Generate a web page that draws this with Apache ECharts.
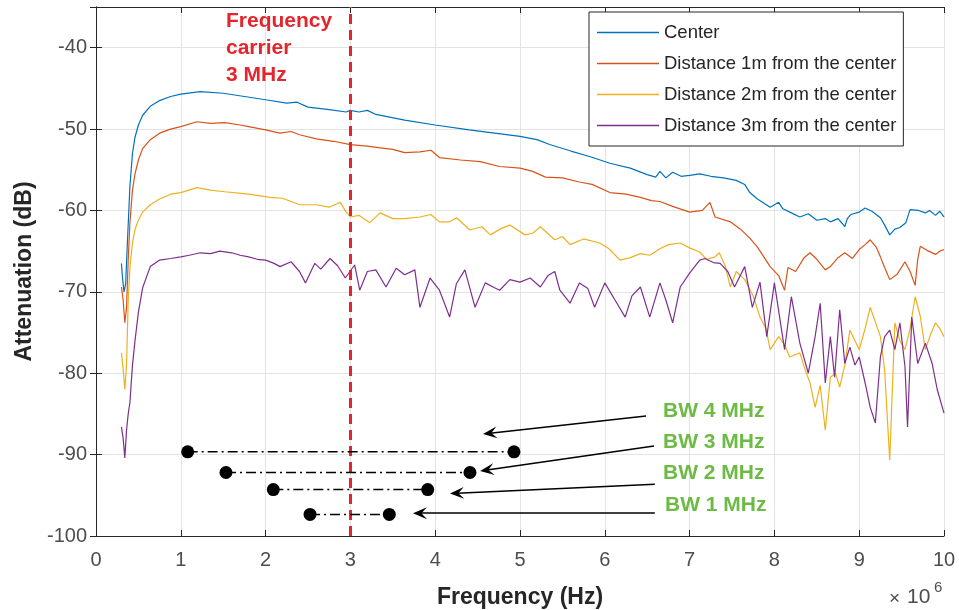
<!DOCTYPE html>
<html>
<head>
<meta charset="utf-8">
<script src="https://cdn.jsdelivr.net/npm/echarts/dist/echarts.min.js"></script>
<style>
html,body{margin:0;padding:0;background:#fff;}
#chart{width:959px;height:610px;}
</style>
</head>
<body>
<div id="chart"></div>
<script>
// ---------- DATA (frequency in MHz, attenuation in dB) ----------
var centerFreq = [0.30,0.31,0.33,0.35,0.37,0.40,0.43,0.46,0.50,0.55,0.64,0.75,0.88,1.00,1.23,1.50,1.75,2.00,2.25,2.37,2.50,2.75,2.95,3.00,3.10,3.20,3.30,3.64,4.00,4.40,4.70,5.00,5.20,5.35,5.60,5.83,6.06,6.30,6.50,6.60,6.65,6.72,6.80,6.90,7.00,7.12,7.25,7.40,7.55,7.65,7.71,7.80,7.95,8.05,8.10,8.20,8.30,8.40,8.50,8.60,8.66,8.75,8.80,8.83,8.86,8.90,9.00,9.07,9.15,9.25,9.30,9.36,9.42,9.48,9.55,9.60,9.70,9.78,9.83,9.90,9.95,10.00];
var centerAtt  = [-66.5,-68.0,-70.0,-69.0,-64.0,-57.0,-53.0,-51.0,-49.5,-48.3,-47.2,-46.5,-46.0,-45.7,-45.4,-45.6,-46.0,-46.4,-46.8,-46.7,-47.3,-47.6,-47.9,-47.7,-47.9,-47.7,-48.2,-48.9,-49.5,-50.1,-50.5,-50.9,-51.3,-51.9,-52.7,-53.4,-54.2,-54.8,-55.6,-55.9,-55.2,-56.0,-55.3,-55.8,-55.7,-55.5,-55.8,-56.0,-56.3,-56.8,-57.8,-58.6,-59.6,-59.0,-59.8,-60.3,-60.8,-60.4,-61.2,-61.0,-61.4,-61.0,-61.6,-62.0,-61.0,-60.5,-60.2,-59.7,-60.1,-60.9,-61.8,-63.0,-62.3,-62.1,-61.5,-59.9,-60.0,-60.3,-60.0,-60.6,-60.1,-60.8];

var d1Freq = [0.30,0.32,0.34,0.36,0.38,0.40,0.43,0.46,0.50,0.55,0.64,0.75,0.88,1.00,1.19,1.35,1.52,1.70,1.80,2.00,2.17,2.30,2.40,2.60,2.80,3.00,3.20,3.35,3.50,3.64,3.82,3.95,4.05,4.30,4.53,4.76,5.00,5.15,5.30,5.50,5.70,5.85,6.06,6.25,6.42,6.55,6.65,6.80,7.00,7.15,7.24,7.30,7.48,7.60,7.71,7.80,7.95,8.05,8.12,8.16,8.25,8.35,8.42,8.50,8.60,8.66,8.75,8.83,8.92,9.00,9.07,9.13,9.20,9.25,9.30,9.36,9.45,9.54,9.60,9.66,9.69,9.72,9.80,9.90,9.95,10.00];
var d1Att  = [-69.4,-71.0,-73.8,-72.0,-66.0,-61.5,-57.5,-55.5,-53.8,-52.4,-51.3,-50.5,-50.0,-49.7,-49.1,-49.3,-49.2,-49.5,-49.7,-50.1,-50.5,-50.3,-50.7,-51.2,-51.5,-51.9,-52.1,-52.3,-52.5,-52.9,-52.8,-52.6,-53.5,-53.8,-54.0,-54.6,-54.8,-55.2,-55.9,-56.0,-56.5,-56.8,-57.8,-58.0,-58.4,-58.8,-58.9,-59.5,-60.2,-60.0,-59.0,-60.8,-61.4,-62.3,-63.4,-64.5,-66.9,-68.0,-69.8,-67.0,-67.5,-65.8,-65.2,-66.0,-67.3,-66.9,-65.8,-65.2,-65.9,-64.8,-64.2,-63.6,-64.5,-65.7,-67.0,-68.5,-67.8,-66.3,-67.5,-69.2,-66.0,-64.4,-64.9,-65.4,-65.0,-64.8];

var d2Freq = [0.30,0.32,0.34,0.36,0.38,0.40,0.43,0.46,0.50,0.55,0.64,0.75,0.88,1.00,1.19,1.35,1.52,1.80,2.05,2.20,2.40,2.60,2.75,2.88,2.95,3.00,3.10,3.23,3.35,3.50,3.64,3.82,3.95,4.05,4.17,4.25,4.41,4.55,4.65,4.78,4.88,5.06,5.15,5.24,5.41,5.50,5.59,5.75,5.94,6.05,6.18,6.30,6.42,6.53,6.65,6.75,6.89,7.00,7.12,7.20,7.30,7.35,7.42,7.48,7.55,7.65,7.75,7.83,7.90,7.95,8.05,8.12,8.18,8.30,8.36,8.42,8.48,8.54,8.60,8.66,8.72,8.77,8.83,8.89,8.95,9.00,9.07,9.13,9.20,9.25,9.30,9.36,9.42,9.48,9.54,9.60,9.66,9.72,9.78,9.85,9.90,9.95,10.00];
var d2Att  = [-77.5,-79.5,-82.0,-79.0,-71.0,-67.0,-64.0,-62.3,-61.2,-60.2,-59.3,-58.6,-58.0,-57.8,-57.2,-57.5,-57.7,-58.0,-58.4,-58.5,-59.3,-59.3,-59.6,-59.0,-60.2,-60.8,-60.6,-61.5,-60.3,-61.0,-61.0,-60.8,-60.5,-61.4,-61.4,-60.9,-62.4,-62.0,-63.0,-62.2,-61.8,-63.0,-62.8,-62.0,-63.6,-63.2,-64.2,-63.5,-64.0,-64.7,-66.1,-65.8,-65.3,-65.5,-64.7,-64.2,-64.0,-64.6,-65.1,-66.0,-65.7,-65.2,-66.8,-69.4,-67.5,-68.5,-70.5,-73.1,-74.5,-77.1,-75.5,-76.5,-78.0,-77.5,-79.5,-81.2,-84.2,-81.5,-87.0,-80.5,-80.0,-81.7,-79.0,-74.7,-76.0,-77.1,-74.5,-71.9,-74.0,-75.5,-79.6,-90.7,-73.8,-76.0,-77.1,-74.5,-70.6,-73.0,-77.1,-75.0,-73.8,-74.5,-75.5];

var d3Freq = [0.30,0.32,0.34,0.36,0.38,0.40,0.43,0.46,0.50,0.55,0.64,0.75,0.88,1.00,1.10,1.23,1.35,1.46,1.60,1.70,1.80,1.90,2.00,2.10,2.17,2.30,2.40,2.47,2.58,2.65,2.76,2.85,2.94,3.05,3.11,3.20,3.30,3.42,3.54,3.64,3.76,3.82,3.94,4.05,4.17,4.25,4.35,4.47,4.59,4.70,4.76,4.88,5.00,5.12,5.24,5.33,5.41,5.47,5.59,5.70,5.80,5.88,6.00,6.12,6.24,6.32,6.42,6.53,6.65,6.72,6.80,6.89,7.00,7.12,7.18,7.28,7.36,7.45,7.53,7.65,7.74,7.83,7.91,8.00,8.12,8.20,8.30,8.40,8.48,8.54,8.60,8.66,8.71,8.77,8.83,8.89,8.95,9.00,9.07,9.13,9.19,9.25,9.30,9.36,9.42,9.48,9.54,9.57,9.62,9.69,9.78,9.86,9.92,10.00];
var d3Att  = [-86.6,-88.0,-90.4,-87.0,-85.0,-83.6,-79.0,-76.0,-72.5,-69.5,-66.9,-66.1,-65.9,-65.7,-65.5,-65.2,-65.3,-65.0,-65.2,-65.5,-65.7,-66.0,-66.1,-66.5,-66.9,-66.3,-67.5,-68.9,-66.5,-67.2,-65.9,-66.8,-68.3,-66.7,-69.8,-67.5,-67.3,-69.4,-67.1,-67.9,-67.3,-71.9,-68.3,-69.8,-73.1,-69.0,-67.3,-71.9,-68.9,-69.5,-69.8,-68.5,-68.8,-68.3,-69.4,-68.0,-67.5,-69.8,-71.4,-68.9,-69.6,-71.9,-68.9,-71.0,-73.1,-70.5,-69.4,-73.1,-68.9,-71.0,-73.8,-69.4,-67.7,-66.1,-65.9,-66.4,-66.5,-67.5,-69.4,-66.9,-71.9,-68.8,-75.5,-68.9,-77.1,-70.6,-76.3,-80.0,-75.5,-71.4,-81.2,-75.5,-80.5,-72.2,-78.8,-76.8,-79.0,-78.0,-81.2,-84.2,-86.1,-78.0,-75.5,-74.7,-77.1,-73.8,-79.2,-86.6,-73.1,-78.8,-76.3,-78.8,-82.0,-84.9];

var seriesNames = ['Center','Distance 1m from the center','Distance 2m from the center','Distance 3m from the center'];

// x tick labels (MHz, shown with x10^6 multiplier)
var xTicks = [0,1,2,3,4,5,6,7,8,9,10];
var yTicks = [-100,-90,-80,-70,-60,-50,-40];

// carrier frequency
var carrierFreq = 3;
var carrierText = 'Frequency\ncarrier\n3 MHz';
var carrierTextAt = [1.533, -40.1];

// bandwidth markers
var bwLabels = ['BW 4 MHz','BW 3 MHz','BW 2 MHz','BW 1 MHz'];
var bwStart  = [1.081, 1.533, 2.091, 2.524];
var bwEnd    = [4.929, 4.410, 3.912, 3.459];
var bwLevel  = [-89.66, -92.2, -94.3, -97.35];
var bwLabelX = [6.686, 6.686, 6.686, 6.71];
var bwLabelY = [-84.65, -88.46, -92.27, -96.2];
var arrowFromX = [6.486, 6.58, 6.59, 6.59];
var arrowFromY = [-85.26, -88.95, -93.63, -97.2];
var arrowToX   = [4.646, 4.611, 4.257, 3.821];
var arrowToY   = [-87.36, -91.9, -94.74, -97.2];

// ---------- CHART ----------
function zip(a,b){ var r=[]; for(var i=0;i<a.length;i++) r.push([a[i],b[i]]); return r; }

var FONT = '"Liberation Sans", Arial, Helvetica, sans-serif';
var colors = ['#0072BD','#D95319','#EDB120','#7E2F8E'];
var RED = '#e3262d';
var GREEN = '#6dbb45';
var arrowPath = 'path://M0,0 L7,15 L0,9 L-7,15 Z';

var series = [];
var curves = [zip(centerFreq,centerAtt), zip(d1Freq,d1Att), zip(d2Freq,d2Att), zip(d3Freq,d3Att)];
for (var s=0;s<4;s++){
  series.push({
    name: seriesNames[s], type:'line', data: curves[s],
    symbol:'none', showSymbol:false, z: 2,
    lineStyle:{color:colors[s], width:1.2}, itemStyle:{color:colors[s]},
    animation:false
  });
}

var arrowLines = [];
for (var i=0;i<4;i++){
  arrowLines.push([
    {coord:[arrowFromX[i],arrowFromY[i]], symbol:'none'},
    {coord:[arrowToX[i],arrowToY[i]], symbol:arrowPath, symbolSize:[12,14]}
  ]);
}
var textPoints = [];
for (var i=0;i<4;i++){
  textPoints.push({coord:[bwLabelX[i],bwLabelY[i]], value: bwLabels[i],
    label:{show:true, position:'right', distance:0, formatter: bwLabels[i],
      color:GREEN, fontFamily:FONT, fontWeight:'bold', fontSize:21}});
}
textPoints.push({coord:carrierTextAt, value:carrierText,
  label:{show:true, position:'right', distance:0, formatter: carrierText,
    color:RED, fontFamily:FONT, fontWeight:'bold', fontSize:21, lineHeight:27}});

series.push({
  name:'carrier', type:'line', data:[], z:4, animation:false, silent:true,
  markLine:{
    silent:true, animation:false, symbol:'none',
    label:{show:false},
    data:[{xAxis:carrierFreq, lineStyle:{color:RED, width:3, type:[10,6]}}]
  }
});
series.push({
  name:'arrows', type:'line', data:[], z:5, animation:false, silent:true,
  markLine:{
    silent:true, animation:false,
    label:{show:false},
    lineStyle:{color:'#000', width:1.5, type:'solid'},
    itemStyle:{color:'#000'},
    data: arrowLines
  },
  markPoint:{
    silent:true, animation:false, symbol:'rect', symbolSize:0,
    itemStyle:{color:'rgba(0,0,0,0)'},
    data: textPoints
  }
});
for (var i=0;i<4;i++){
  series.push({
    name:'bw'+i, type:'line', z:6, animation:false, silent:true,
    data:[[bwStart[i],bwLevel[i]],[bwEnd[i],bwLevel[i]]],
    symbol:'circle', symbolSize:13, showSymbol:true,
    itemStyle:{color:'#000'},
    lineStyle:{color:'#000', width:1.5, type:[10,4,2,4]}
  });
}

var axisCommonLine = {show:true, lineStyle:{color:'#262626', width:1}};
var legendData = seriesNames.map(function(n){ return {name:n, icon:'rect'}; });
var option = {
  backgroundColor:'#fff',
  animation:false,
  color: colors,
  grid:{left:96, right:15, top:7, bottom:74, containLabel:false, outerBoundsMode:'none'},
  legend:{
    data: legendData, orient:'vertical', left:589, top:12,
    padding:[11,7,11,8], itemGap:12, itemWidth:62, itemHeight:1.4,
    backgroundColor:'#fff', borderColor:'#262626', borderWidth:1,
    textStyle:{color:'#262626', fontFamily:FONT, fontSize:18.5, lineHeight:18},
    selectedMode:false
  },
  xAxis:[{
    type:'value', min:0, max:10, interval:1, position:'bottom',
    name:'Frequency (Hz)', nameLocation:'middle', nameGap:50,
    nameTextStyle:{color:'#262626', fontFamily:FONT, fontWeight:'bold', fontSize:23},
    axisLine:axisCommonLine,
    axisTick:{show:true, inside:true, length:6, lineStyle:{color:'#262626'}},
    axisLabel:{color:'#4d4d4d', fontFamily:FONT, fontSize:20, margin:14},
    splitLine:{show:true, lineStyle:{color:'#e3e3e3', width:1}}
  },{
    type:'value', min:0, max:10, interval:1, position:'top',
    axisLine:axisCommonLine,
    axisTick:{show:true, inside:true, length:6, lineStyle:{color:'#262626'}},
    axisLabel:{show:false}, splitLine:{show:false}
  }],
  yAxis:[{
    type:'value', min:-100, max:-35, interval:10, position:'left',
    name:'Attenuation (dB)', nameLocation:'middle', nameGap:57,
    nameTextStyle:{color:'#262626', fontFamily:FONT, fontWeight:'bold', fontSize:23},
    axisLine:axisCommonLine,
    axisTick:{show:true, inside:true, length:6, lineStyle:{color:'#262626'}},
    axisLabel:{color:'#4d4d4d', fontFamily:FONT, fontSize:20, margin:9, showMaxLabel:false},
    splitLine:{show:true, lineStyle:{color:'#e3e3e3', width:1}}
  },{
    type:'value', min:-100, max:-35, interval:10, position:'right',
    axisLine:axisCommonLine,
    axisTick:{show:true, inside:true, length:6, lineStyle:{color:'#262626'}},
    axisLabel:{show:false}, splitLine:{show:false}
  }],
  graphic:[
    {type:'text', left:889, top:589, style:{text:'\u00d7', fill:'#4d4d4d', font:'19px ' + FONT}},
    {type:'text', left:907, top:587, style:{text:'10', fill:'#4d4d4d', font:'21px ' + FONT}},
    {type:'text', left:934, top:580, style:{text:'6', fill:'#4d4d4d', font:'15px ' + FONT}}
  ],
  series: series
};

var chart = echarts.init(document.getElementById('chart'), null, {renderer:'canvas'});
chart.setOption(option);
</script>
</body>
</html>
